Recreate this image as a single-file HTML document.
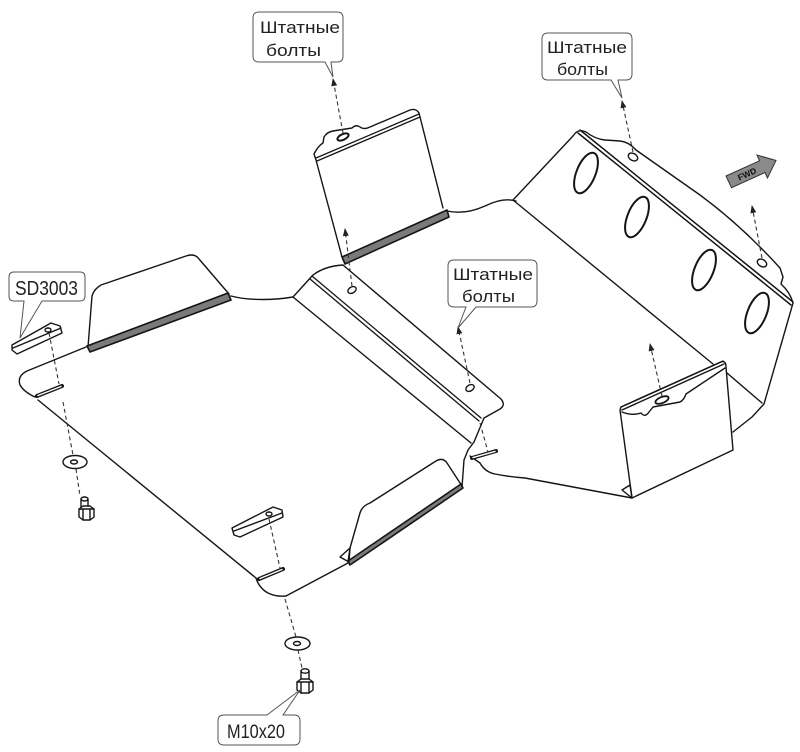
<!DOCTYPE html>
<html><head><meta charset="utf-8"><style>
html,body{margin:0;padding:0;background:#fff;}
svg{display:block;}
text{font-family:"Liberation Sans","DejaVu Sans",sans-serif;fill:#222;}
</style></head><body>
<svg width="800" height="752" viewBox="0 0 800 752" xmlns="http://www.w3.org/2000/svg">
<defs>
<marker id="ah" markerUnits="userSpaceOnUse" markerWidth="8" markerHeight="6" refX="7" refY="3" orient="auto">
<path d="M0,0 L8,3 L0,6 Z" fill="#222"/>
</marker>
</defs>
<rect width="800" height="752" fill="#fff"/>

<g fill="none" stroke="#151515" stroke-width="1.4" stroke-linejoin="round" stroke-linecap="round">
<!-- LEFT PLATE -->
<path d="M86,347 L27,371 Q17,376 20,385 Q24,392 35,397"/>
<path d="M38,400 L256,578 Q259,588 268,593 Q276,597 286,596 L348,563"/>
<line x1="37" y1="396" x2="62" y2="386" stroke-width="4"/>
<line x1="38" y1="395.5" x2="61" y2="386.5" stroke="#fff" stroke-width="1.4"/>
<line x1="259" y1="579" x2="283" y2="569" stroke-width="4"/>
<line x1="260" y1="578.5" x2="282" y2="569.5" stroke="#fff" stroke-width="1.4"/>

<!-- top-left flap -->
<path d="M88,347 L92,296 Q94,289 101,285 L186,256 Q195,253 199,259 L229,294"/>
<polygon points="87,346 228,293 231,300 90,352" fill="#7a7a7a" stroke-width="1.6"/>

<!-- flange -->
<path d="M231,296 C250,301 275,300 293,297 L313,275 Q325,266 343,265 L501,399 Q506,405 500,409 L484,418 L474,442 L468,450 L464,460 L462,487"/>
<path d="M293,297 L471,443"/>
<line x1="312" y1="276" x2="481" y2="418" stroke-width="1.3"/>
<line x1="310" y1="279" x2="479" y2="421" stroke-width="1.3"/>
<ellipse cx="352" cy="290" rx="4.5" ry="3" transform="rotate(-30 352 290)"/>
<ellipse cx="470" cy="388" rx="4.5" ry="3" transform="rotate(-30 470 388)"/>

<!-- lower-right flap of left plate -->
<path d="M348,562 L350,548 L360,513 Q362,506 370,503 L436,461 Q443,457 447,463 L462,486"/>
<polygon points="348,561 461,484 463,488 350,565" fill="#7a7a7a" stroke-width="1.6"/>
<path d="M340,557 L350,548 L349,562 Z"/>

<!-- REAR WALL -->
<path d="M342,257 L316,160 L314,154 Q318,146 323,143 L324,137 Q327,132 333,131 L352,128 Q356,124 360,127 Q364,130 370,127 L410,110 Q416,108 419,113 L443,208" fill="#fff"/>
<line x1="316" y1="158" x2="419" y2="114" stroke-width="1.3"/>
<line x1="317" y1="161" x2="420" y2="117" stroke-width="1.3"/>
<polygon points="342,257 447,210 449,217 345,264" fill="#7a7a7a" stroke-width="1.6"/>
<ellipse cx="343" cy="137" rx="6" ry="2.8" transform="rotate(-25 343 137)" stroke-width="2"/>

<!-- RIGHT PLATE -->
<path d="M447,211 Q465,215 485,206 Q503,197 516,201"/>
<path d="M513,200 L573,136 Q578,128 586,132 Q595,139 605,140 L620,141 Q629,142 636,150 L700,195 Q742,226 780,268 L783,277 L781,284 Q790,292 793,303 L764,404 L752,417 L733,432"/>
<line x1="513" y1="200" x2="713" y2="364"/>
<line x1="727" y1="373" x2="762" y2="403"/>
<line x1="580" y1="130" x2="793" y2="302" stroke-width="1.5"/>
<line x1="578" y1="133" x2="791" y2="305" stroke-width="1.5"/>
<ellipse cx="633" cy="157" rx="5" ry="3.5" transform="rotate(30 633 157)"/>
<ellipse cx="762" cy="263" rx="5" ry="3.5" transform="rotate(30 762 263)"/>
<g stroke-width="2">
<ellipse cx="586" cy="173" rx="9.5" ry="21.5" transform="rotate(22 586 173)"/>
<ellipse cx="637" cy="217" rx="9.5" ry="21.5" transform="rotate(22 637 217)"/>
<ellipse cx="704" cy="270" rx="9.5" ry="21.5" transform="rotate(22 704 270)"/>
<ellipse cx="757" cy="313" rx="9.5" ry="21.5" transform="rotate(22 757 313)"/>
</g>

<!-- front wall -->
<path d="M620,410 L632,498 L733,450 L726,367 Q726,360 721,362 L621,407 Z" fill="#fff"/>
<path d="M622,412 Q632,416 641,413 Q645,418 649,412 L653,407 L680,402 Q684,400 686,394 L725,368"/>
<line x1="621" y1="407" x2="723" y2="361" stroke-width="1.4"/>
<line x1="622" y1="410" x2="724" y2="364" stroke-width="1.4"/>
<path d="M622,490 L632,498 L630,485 Z"/>
<ellipse cx="662" cy="400" rx="7" ry="3" transform="rotate(-22 662 400)" stroke-width="1.8"/>

<!-- right plate bottom -->
<path d="M470,456 L480,463 Q485,472 495,474 Q510,477 525,478 L632,498"/>
<line x1="472" y1="458" x2="496" y2="451" stroke-width="4"/>
<line x1="473" y1="457.6" x2="495" y2="451.4" stroke="#fff" stroke-width="1.4"/>

<!-- STRIPS -->
<polygon points="12,345 51,323 60,326 62,333 17,354 12,350" fill="#fff"/>
<line x1="13" y1="348" x2="61" y2="328"/>
<ellipse cx="48" cy="330" rx="3" ry="2"/>
<polygon points="232,528 273,507 282,510 283,517 240,537 234,535" fill="#fff"/>
<line x1="234" y1="531" x2="282" y2="513"/>
<ellipse cx="269" cy="514" rx="3" ry="2"/>

<!-- WASHERS -->
<ellipse cx="75" cy="462" rx="12" ry="6.5" fill="#fff"/>
<ellipse cx="74" cy="462" rx="3.5" ry="2"/>
<ellipse cx="297.5" cy="643.5" rx="12.5" ry="6.5" fill="#fff"/>
<ellipse cx="297" cy="643.5" rx="3.5" ry="2"/>

<!-- BOLTS -->
<path d="M81,499 L81,507 M88,499 L88,507"/>
<ellipse cx="84.5" cy="499" rx="3.5" ry="2"/>
<path d="M79,509 L83,506 L90,506 L94,509 L94,517 L90,520 L83,520 L79,517 Z" fill="#fff"/>
<path d="M79,509 L94,509 M83,509 L83,520 M90,509 L90,520"/>
<path d="M301,671 L301,680 M309,671 L309,680"/>
<ellipse cx="305" cy="671" rx="4" ry="2.2"/>
<path d="M297,682 L301,679 L309,679 L313,682 L313,690 L309,693 L301,693 L297,690 Z" fill="#fff"/>
<path d="M297,682 L313,682 M301,682 L301,693 M309,682 L309,693"/>
</g>

<!-- DASHED LINES -->
<g fill="none" stroke="#333" stroke-width="1.1" stroke-dasharray="4 3">
<line x1="343" y1="133" x2="333" y2="79" marker-end="url(#ah)"/>
<line x1="352" y1="286" x2="345" y2="229" marker-end="url(#ah)"/>
<line x1="470" y1="383" x2="458" y2="327" marker-end="url(#ah)"/>
<line x1="633" y1="152" x2="622" y2="101" marker-end="url(#ah)"/>
<line x1="762" y1="258" x2="752" y2="206" marker-end="url(#ah)"/>
<line x1="662" y1="396" x2="650" y2="344" marker-end="url(#ah)"/>
<line x1="49" y1="333" x2="59" y2="384"/>
<line x1="63" y1="402" x2="73" y2="455"/>
<line x1="76" y1="469" x2="80" y2="496"/>
<line x1="269" y1="519" x2="280" y2="568"/>
<line x1="285" y1="599" x2="296" y2="637"/>
<line x1="298" y1="650" x2="302" y2="668"/>
<line x1="480" y1="423" x2="488" y2="452"/>
</g>

<!-- FWD arrow -->
<polygon points="726,176 759.5,160.8 757,155 776,160.5 767.5,178 765,172.5 731.5,187.7" fill="#8a8a8a" stroke="#333" stroke-width="1"/>
<text x="747" y="177" font-size="8.5" font-weight="bold" text-anchor="middle" transform="rotate(-24.5 747 174)" style="fill:#111">FWD</text>

<!-- LABEL BUBBLES -->
<g fill="#fff" stroke="#555" stroke-width="1">
<path d="M259,12 H337 Q343,12 343,18 V56 Q343,62 337,62 H331 L333,77 L325,62 H259 Q253,62 253,56 V18 Q253,12 259,12 Z"/>
<path d="M548,33 H626 Q632,33 632,39 V74 Q632,80 626,80 H618 L622,98 L611,80 H548 Q542,80 542,74 V39 Q542,33 548,33 Z"/>
<path d="M454,260 H531 Q537,260 537,266 V301 Q537,307 531,307 H476 L458,328 L466,307 H454 Q448,307 448,301 V266 Q448,260 454,260 Z"/>
<path d="M14,272 H80 Q85,272 85,277 V296 Q85,301 80,301 H42 L20,338 L24,301 H14 Q9,301 9,296 V277 Q9,272 14,272 Z"/>
<path d="M224,715 H267 L300,690 L283,715 H294 Q300,715 300,721 V739 Q300,745 294,745 H224 Q218,745 218,739 V721 Q218,715 224,715 Z"/>
</g>

<g font-size="17">
<text x="260" y="33" textLength="80" lengthAdjust="spacingAndGlyphs">Штатные</text>
<text x="266" y="56" textLength="55" lengthAdjust="spacingAndGlyphs">болты</text>
<text x="547" y="53" textLength="80" lengthAdjust="spacingAndGlyphs">Штатные</text>
<text x="557" y="75" textLength="51" lengthAdjust="spacingAndGlyphs">болты</text>
<text x="453" y="280" textLength="80" lengthAdjust="spacingAndGlyphs">Штатные</text>
<text x="462" y="302" textLength="53" lengthAdjust="spacingAndGlyphs">болты</text>
</g>
<text x="15" y="295" font-size="20" textLength="63" lengthAdjust="spacingAndGlyphs">SD3003</text>
<text x="227" y="738" font-size="19" textLength="58" lengthAdjust="spacingAndGlyphs">M10x20</text>
</svg>
</body></html>
